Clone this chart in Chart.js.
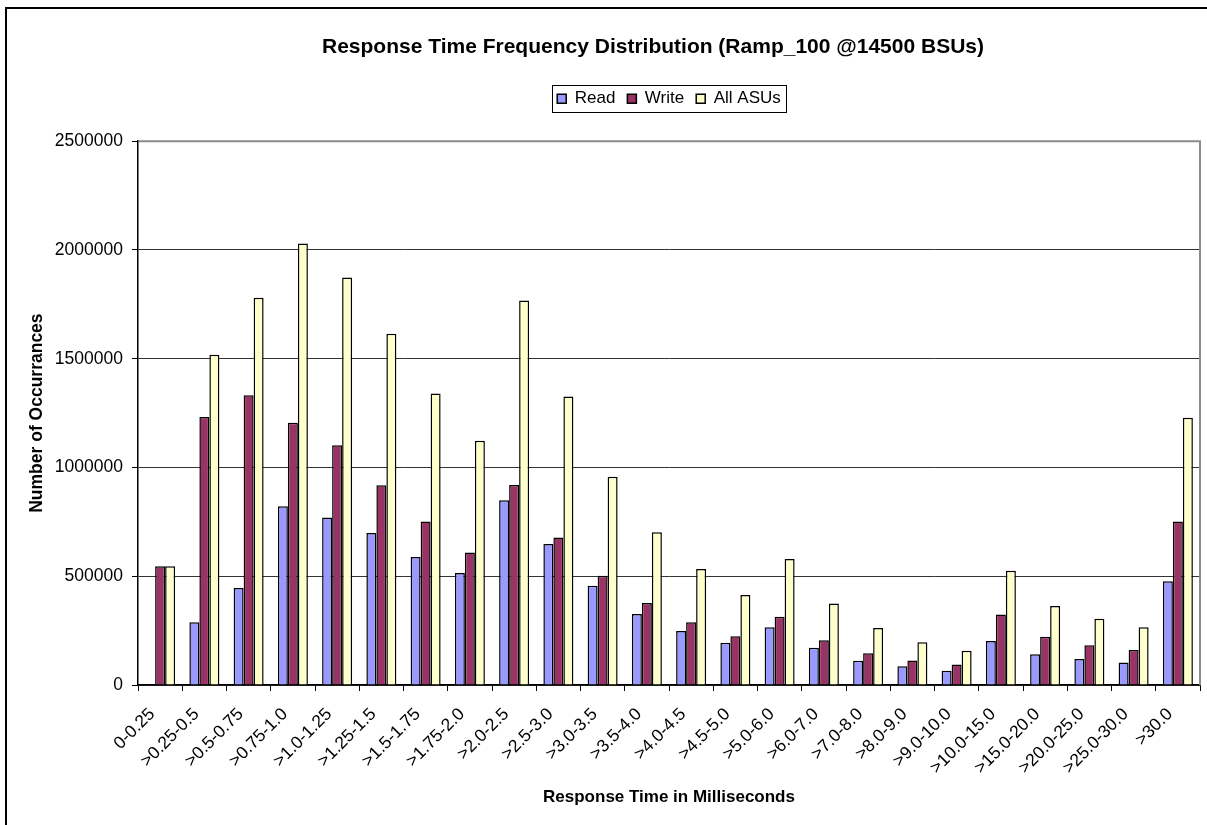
<!DOCTYPE html>
<html>
<head>
<meta charset="utf-8">
<script src="https://cdn.jsdelivr.net/npm/chart.js@4.4.1/dist/chart.umd.min.js"></script>
<style>
  html, body { margin: 0; padding: 0; background: #fff; overflow: hidden; width: 1207px; height: 825px; }
  #frame { position: absolute; left: 5px; top: 7px; width: 1400px; height: 900px;
           border-left: 2px solid #000; border-top: 2px solid #000; }
  #wrap { position: absolute; left: 0; top: 0; width: 1306px; height: 825px; }
</style>
</head>
<body>
<div id="frame"></div>
<div id="wrap"><canvas id="chart" width="1306" height="825"></canvas></div>
<script>
// Response-time buckets (milliseconds)
const categories = [
  '0-0.25', '>0.25-0.5', '>0.5-0.75', '>0.75-1.0', '>1.0-1.25', '>1.25-1.5',
  '>1.5-1.75', '>1.75-2.0', '>2.0-2.5', '>2.5-3.0', '>3.0-3.5', '>3.5-4.0',
  '>4.0-4.5', '>4.5-5.0', '>5.0-6.0', '>6.0-7.0', '>7.0-8.0', '>8.0-9.0',
  '>9.0-10.0', '>10.0-15.0', '>15.0-20.0', '>20.0-25.0', '>25.0-30.0', '>30.0'
];

// Occurrence counts per bucket
const readCounts = [
  0, 288000, 446000, 822000, 770000, 699000, 589000, 515000, 849000, 648000,
  456000, 326000, 248000, 194000, 266000, 171000, 112000, 86000, 66000,
  202000, 141000, 120000, 104000, 477000
];
const writeCounts = [
  546000, 1232000, 1332000, 1206000, 1102000, 918000, 752000, 609000, 919000,
  678000, 502000, 377000, 288000, 224000, 314000, 206000, 146000, 113000,
  94000, 324000, 222000, 183000, 161000, 752000
];
const allAsuCounts = [
  546000, 1518000, 1780000, 2030000, 1873000, 1615000, 1340000, 1123000,
  1768000, 1326000, 957000, 702000, 533000, 414000, 579000, 375000, 262000,
  196000, 158000, 525000, 363000, 304000, 266000, 1229000
];

// Y axis ticks
const yTicks = [0, 500000, 1000000, 1500000, 2000000, 2500000];

const FONT = "'Liberation Sans', Arial, Helvetica, sans-serif";
Chart.defaults.font.family = FONT;
Chart.defaults.color = '#000';

// Grey plot-area frame (top + right) and a box around the legend
const frames = {
  id: 'frames',
  afterDraw(chart) {
    const { ctx, chartArea: { left, top, right, bottom } } = chart;
    ctx.save();
    ctx.strokeStyle = '#8c8c8c';
    ctx.lineWidth = 2;
    ctx.beginPath();
    ctx.moveTo(left + 1, top);
    ctx.lineTo(right, top);
    ctx.lineTo(right, bottom);
    ctx.stroke();

    const hb = chart.legend && chart.legend.legendHitBoxes;
    if (hb && hb.length) {
      const first = hb[0], last = hb[hb.length - 1];
      const cy = first.top + first.height / 2;
      const x0 = Math.round(first.left - 5) + 0.5;
      const x1 = Math.round(last.left + last.width + 5) + 0.5;
      const y0 = Math.round(cy - 13.5) + 0.5;
      const y1 = Math.round(cy + 13.5) + 0.5;
      ctx.strokeStyle = '#000';
      ctx.lineWidth = 1;
      ctx.strokeRect(x0, y0, x1 - x0, y1 - y0);
    }
    ctx.restore();
  }
};

new Chart(document.getElementById('chart'), {
  type: 'bar',
  data: {
    labels: categories,
    datasets: [
      { label: 'Read', data: readCounts, backgroundColor: '#9999FF', borderColor: '#000', borderWidth: 1.5 },
      { label: 'Write', data: writeCounts, backgroundColor: '#993366', borderColor: '#000', borderWidth: 1.5 },
      { label: 'All ASUs', data: allAsuCounts, backgroundColor: '#FFFFCC', borderColor: '#000', borderWidth: 1.5 }
    ]
  },
  options: {
    responsive: false,
    animation: false,
    devicePixelRatio: 1,
    layout: { padding: 0 },
    datasets: { bar: { categoryPercentage: 0.678, barPercentage: 1 } },
    plugins: {
      title: {
        display: true,
        text: 'Response Time Frequency Distribution (Ramp_100 @14500 BSUs)',
        font: { size: 21, weight: 'bold' },
        color: '#000',
        padding: { top: 35, bottom: 18 }
      },
      legend: {
        display: true,
        position: 'top',
        fullSize: false,
        labels: { boxWidth: 9, boxHeight: 9, padding: 12, font: { size: 17 }, color: '#000' }
      },
      tooltip: { enabled: false }
    },
    scales: {
      x: {
        offset: true,
        grid: { offset: true, drawOnChartArea: false, drawTicks: true, tickLength: 6, tickColor: '#000', tickWidth: 1 },
        border: { display: true, color: '#000', width: 1.5 },
        ticks: {
          autoSkip: false, maxRotation: 45, minRotation: 45,
          padding: 13, labelOffset: -8,
          font: { size: 17.5 }, color: '#000'
        },
        title: {
          display: true,
          text: 'Response Time in Milliseconds',
          font: { size: 17, weight: 'bold' },
          color: '#000',
          padding: { top: 0, bottom: 17 }
        },
        afterFit(s) { s.height = 140; }
      },
      y: {
        min: 0,
        max: 2500000,
        afterBuildTicks(s) { s.ticks = yTicks.map(v => ({ value: v })); },
        ticks: { padding: 9, font: { size: 17.5 }, color: '#000', callback: v => String(v) },
        grid: { color: '#333', lineWidth: 1, drawTicks: true, tickLength: 6, tickColor: '#000' },
        border: { display: true, color: '#000', width: 1.5 },
        title: {
          display: true,
          text: 'Number of Occurrances',
          font: { size: 17.5, weight: 'bold' },
          color: '#000',
          padding: { top: 27, bottom: 0 }
        },
        afterFit(s) { s.width = 138; }
      },
      // spacer between legend and plot
      xTop: {
        type: 'category', position: 'top', display: true,
        grid: { display: false }, ticks: { display: false }, border: { display: false },
        afterFit(s) { s.height = 24; }
      },
      // spacer to the right of the plot
      yRight: {
        type: 'linear', position: 'right', display: true,
        grid: { display: false }, ticks: { display: false }, border: { display: false },
        afterFit(s) { s.width = 106; }
      }
    }
  },
  plugins: [frames]
});
</script>
</body>
</html>
